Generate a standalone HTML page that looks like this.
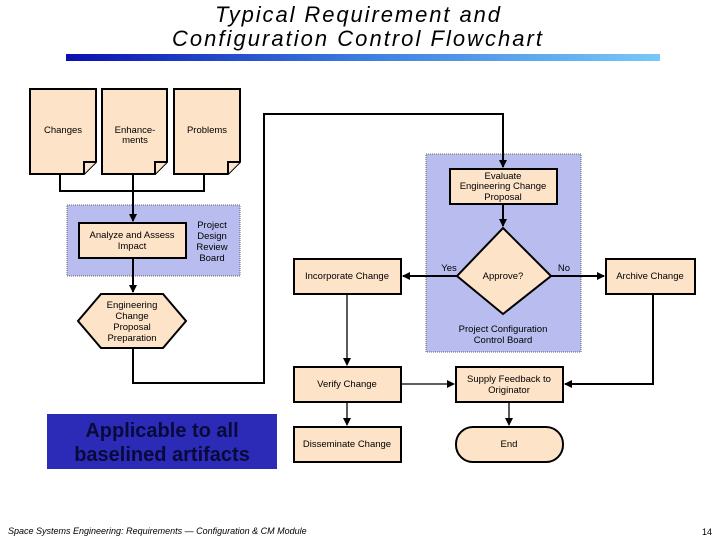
<!DOCTYPE html>
<html><head><meta charset="utf-8"><style>
html,body{margin:0;padding:0;background:#fff;}
svg{display:block;}
text{font-family:"Liberation Sans",sans-serif;}
</style></head><body>
<svg width="720" height="540" viewBox="0 0 720 540" xmlns="http://www.w3.org/2000/svg">
<defs>
<linearGradient id="g" x1="0" x2="1"><stop offset="0" stop-color="#0a10b0"/><stop offset="0.5" stop-color="#3c7ee0"/><stop offset="1" stop-color="#78c8f8"/></linearGradient>
<marker id="a" markerWidth="8" markerHeight="8" refX="7" refY="4" orient="auto" markerUnits="userSpaceOnUse"><path d="M0,0 L8,4 L0,8 z" fill="#000"/></marker>
</defs>
<text x="215" y="22" font-size="22" font-style="italic" textLength="285" lengthAdjust="spacing">Typical Requirement and</text>
<text x="172" y="46" font-size="22" font-style="italic" textLength="370" lengthAdjust="spacing">Configuration Control Flowchart</text>
<rect x="66" y="54" width="594" height="7" fill="url(#g)"/>

<rect x="67" y="205" width="173" height="71" fill="#b8bcee" stroke="#666" stroke-dasharray="1,1"/>
<rect x="426" y="154" width="155" height="198" fill="#b8bcee" stroke="#666" stroke-dasharray="1,1"/>

<g fill="none" stroke="#000" stroke-width="2">
<polyline points="60,174 60,191 204,191 204,174"/>
<line x1="133" y1="174" x2="133" y2="221" marker-end="url(#a)"/>
<line x1="133" y1="258" x2="133" y2="292" marker-end="url(#a)"/>
<polyline points="133,348 133,383 264,383 264,114 503,114 503,167" marker-end="url(#a)"/>
<line x1="503" y1="204" x2="503" y2="226" marker-end="url(#a)"/>
<line x1="457" y1="276" x2="403" y2="276" marker-end="url(#a)"/>
<line x1="551" y1="276" x2="604" y2="276" marker-end="url(#a)"/>
<polyline points="653,294 653,384 565,384" marker-end="url(#a)"/>
</g>
<g fill="none" stroke="#000" stroke-width="1.3">
<line x1="347" y1="294" x2="347" y2="365" marker-end="url(#a)"/>
<line x1="401" y1="384" x2="454" y2="384" marker-end="url(#a)"/>
<line x1="347" y1="402" x2="347" y2="425" marker-end="url(#a)"/>
<line x1="509" y1="402" x2="509" y2="425" marker-end="url(#a)"/>
</g>

<g fill="#fde3c8" stroke="#000" stroke-width="2">
<path d="M30,89 H96 V162 L84,174 H30 Z"/><path d="M84,174 L84,162 H96"/>
<path d="M102,89 H167 V162 L155,174 H102 Z"/><path d="M155,174 L155,162 H167"/>
<path d="M174,89 H240 V162 L228,174 H174 Z"/><path d="M228,174 L228,162 H240"/>
<rect x="79" y="223" width="107" height="35"/>
<polygon points="101,294 163,294 186,321 163,348 101,348 78,321"/>
<rect x="450" y="169" width="107" height="35"/>
<polygon points="503,228 551,276 503,314 457,276"/>
<rect x="294" y="259" width="107" height="35"/>
<rect x="606" y="259" width="89" height="35"/>
<rect x="294" y="367" width="107" height="35"/>
<rect x="456" y="367" width="107" height="35"/>
<rect x="294" y="427" width="107" height="35"/>
<rect x="456" y="427" width="107" height="35" rx="17"/>
</g>

<g font-size="9.5" text-anchor="middle" fill="#000">
<text x="63" y="133">Changes</text>
<text x="135" y="133">Enhance-</text><text x="135" y="143">ments</text>
<text x="207" y="133">Problems</text>
<text x="132" y="238">Analyze and Assess</text><text x="132" y="249">Impact</text>
<text x="212" y="228">Project</text><text x="212" y="239">Design</text><text x="212" y="250">Review</text><text x="212" y="261">Board</text>
<text x="132" y="308">Engineering</text><text x="132" y="319">Change</text><text x="132" y="330">Proposal</text><text x="132" y="341">Preparation</text>
<text x="503" y="179">Evaluate</text><text x="503" y="189">Engineering Change</text><text x="503" y="200">Proposal</text>
<text x="503" y="279">Approve?</text>
<text x="449" y="271">Yes</text><text x="564" y="271">No</text>
<text x="347" y="279">Incorporate Change</text>
<text x="650" y="279">Archive Change</text>
<text x="503" y="332">Project Configuration</text><text x="503" y="343">Control Board</text>
<text x="347" y="387">Verify Change</text>
<text x="509" y="382">Supply Feedback to</text><text x="509" y="393">Originator</text>
<text x="347" y="447">Disseminate Change</text>
<text x="509" y="447">End</text>
</g>

<rect x="47" y="414" width="230" height="55" fill="#2b2bb8"/>
<text x="162" y="437" text-anchor="middle" font-size="20" font-weight="bold" fill="#0a0a3a">Applicable to all</text>
<text x="162" y="461" text-anchor="middle" font-size="20" font-weight="bold" fill="#0a0a3a">baselined artifacts</text>

<text x="8" y="534" font-size="9" font-style="italic">Space Systems Engineering: Requirements — Configuration &amp; CM Module</text>
<text x="712" y="535" text-anchor="end" font-size="9">14</text>
</svg>
</body></html>
